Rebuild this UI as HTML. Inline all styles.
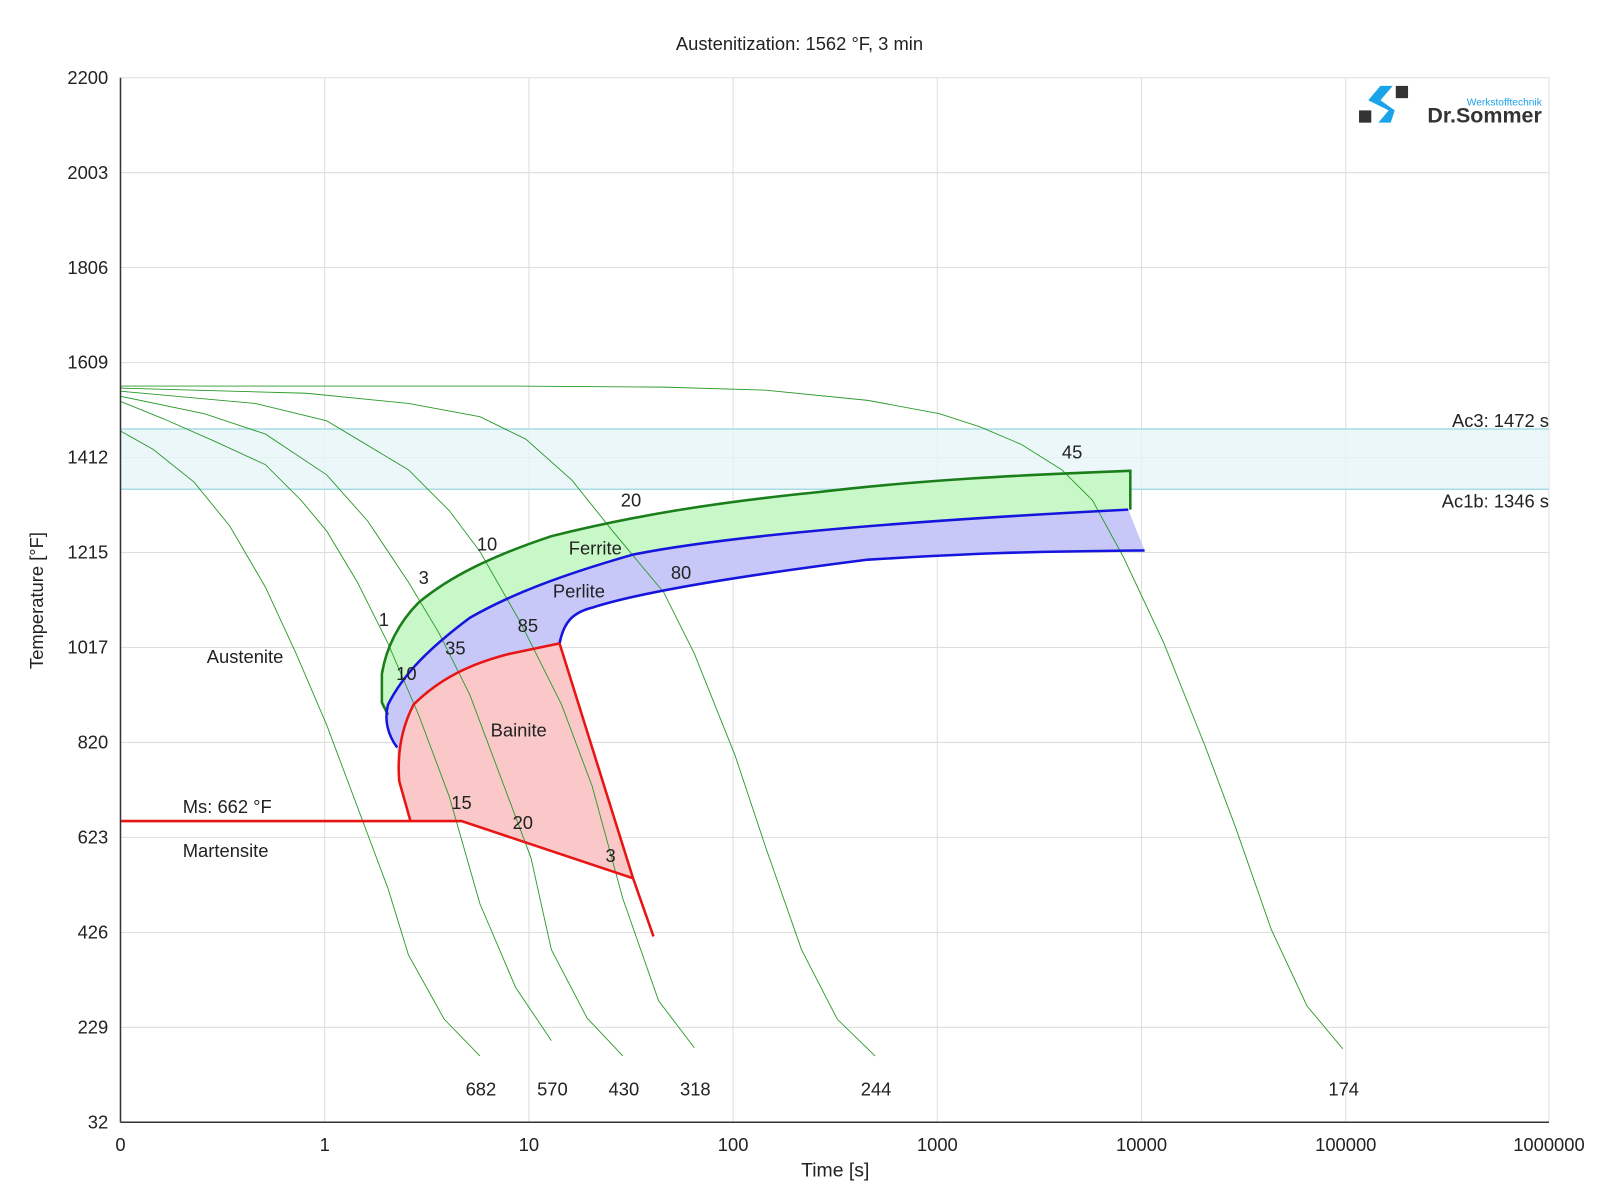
<!DOCTYPE html>
<html><head><meta charset="utf-8"><style>body{margin:0;background:#fff}svg{display:block}text{font-family:"Liberation Sans",sans-serif;fill:#222}</style></head><body>
<svg width="1600" height="1200" viewBox="0 0 1567 1175" xmlns="http://www.w3.org/2000/svg">
<g stroke="#ddd" stroke-width="1">
<line x1="318" y1="76" x2="318" y2="1099"/><line x1="518" y1="76" x2="518" y2="1099"/><line x1="718" y1="76" x2="718" y2="1099"/><line x1="918" y1="76" x2="918" y2="1099"/><line x1="1118" y1="76" x2="1118" y2="1099"/><line x1="1318" y1="76" x2="1318" y2="1099"/><line x1="1517" y1="76" x2="1517" y2="1099"/>
<line x1="118" y1="76" x2="1517" y2="76"/><line x1="118" y1="169" x2="1517" y2="169"/><line x1="118" y1="262" x2="1517" y2="262"/><line x1="118" y1="355" x2="1517" y2="355"/><line x1="118" y1="448" x2="1517" y2="448"/><line x1="118" y1="541" x2="1517" y2="541"/><line x1="118" y1="634" x2="1517" y2="634"/><line x1="118" y1="727" x2="1517" y2="727"/><line x1="118" y1="820" x2="1517" y2="820"/><line x1="118" y1="913" x2="1517" y2="913"/><line x1="118" y1="1006" x2="1517" y2="1006"/>
</g>
<rect x="118" y="420" width="1399" height="59" fill="#e6f5f8" opacity="0.8"/>
<line x1="118" y1="420" x2="1517" y2="420" stroke="#a8dbe6" stroke-width="1.5"/>
<line x1="118" y1="479" x2="1517" y2="479" stroke="#a8dbe6" stroke-width="1.5"/>
<!-- regions -->
<path d="M1107,461 C1000,465 900,470 800,482 C700,492 620,505 540,525 C480,545 440,565 410,590 C390,610 378,635 374,660 L374,688 L380,700 C395,660 420,635 460,605 C500,582 550,563 620,543 C700,527 850,512 1105,499 Z" fill="#c8f8c8"/>
<path d="M1105,499 C850,512 700,527 620,543 C550,563 500,582 460,605 C420,635 395,660 380,690 C376,705 380,720 389,732 L390,760 C389,740 392,715 405,690 C430,665 460,650 500,640 L548,630 C552,610 560,600 580,595 C620,582 700,567 850,548 C950,542 1000,540 1121,539 Z" fill="#c8c8f8"/>
<path d="M548,630 L500,640 C460,650 430,665 405,690 C392,715 389,740 391,765 L402,804 L452,804 L620,860 Z" fill="#fac8c8"/>
<!-- cooling curves -->
<g fill="none" stroke="#2a9a2a" stroke-width="0.9">
<polyline points="118,422 150,440 190,472 225,515 260,575 290,640 320,710 350,790 380,870 400,935 435,998 470,1034"/>
<polyline points="118,393 160,410 210,432 260,455 295,490 320,520 350,570 380,630 410,700 440,780 470,885 505,967 540,1019"/>
<polyline points="118,388 200,405 260,425 320,465 360,510 400,570 430,620 460,680 490,760 520,840 540,930 575,997 610,1034"/>
<polyline points="118,383 250,395 320,412 400,460 440,500 470,540 510,610 550,690 580,770 610,880 645,980 680,1026"/>
<polyline points="118,380 300,385 400,395 470,408 515,430 560,470 600,520 650,580 680,640 720,740 750,830 785,930 820,998 857,1034"/>
<polyline points="118,378 500,378 650,379 750,382 850,392 920,405 960,418 1000,435 1040,460 1070,490 1100,545 1140,630 1180,730 1210,810 1245,910 1280,985 1315,1027"/>
</g>
<!-- boundaries -->
<path d="M1107,499 L1107,461 C1000,465 900,470 800,482 C700,492 620,505 540,525 C480,545 440,565 410,590 C390,610 378,635 374,660 L374,688 L380,700" fill="none" stroke="#1a7f1a" stroke-width="2.5"/>
<path d="M1105,499 C850,512 700,527 620,543 C550,563 500,582 460,605 C420,635 395,660 380,690 C376,705 380,720 389,732" fill="none" stroke="#1515dd" stroke-width="2.5"/>
<path d="M1121,539 C1000,540 950,542 850,548 C700,567 620,582 580,595 C560,600 552,610 548,630" fill="none" stroke="#1515dd" stroke-width="2.5"/>
<path d="M548,630 L500,640 C460,650 430,665 405,690 C392,715 389,740 391,765 L402,804 M118,804 L452,804 L620,860 L640,917 M548,630 L620,860" fill="none" stroke="#e81515" stroke-width="2.5"/>
<!-- axes -->
<g stroke="#333" stroke-width="1.5"><line x1="118" y1="76" x2="118" y2="1099"/><line x1="118" y1="1099" x2="1517" y2="1099"/></g>
<g font-size="18" text-anchor="end">
<text x="106" y="82">2200</text><text x="106" y="175">2003</text><text x="106" y="268">1806</text><text x="106" y="361">1609</text><text x="106" y="454">1412</text><text x="106" y="547">1215</text><text x="106" y="640">1017</text><text x="106" y="733">820</text><text x="106" y="826">623</text><text x="106" y="919">426</text><text x="106" y="1012">229</text><text x="106" y="1105">32</text>
</g>
<g font-size="18" text-anchor="middle">
<text x="118" y="1127">0</text><text x="318" y="1127">1</text><text x="518" y="1127">10</text><text x="718" y="1127">100</text><text x="918" y="1127">1000</text><text x="1118" y="1127">10000</text><text x="1318" y="1127">100000</text><text x="1517" y="1127">1000000</text>
<text x="818" y="1152" font-size="19">Time [s]</text>
<text x="783" y="49">Austenitization: 1562 °F, 3 min</text>
<text x="471" y="1073">682</text><text x="541" y="1073">570</text><text x="611" y="1073">430</text><text x="681" y="1073">318</text><text x="858" y="1073">244</text><text x="1316" y="1073">174</text>
<text x="1050" y="449">45</text><text x="618" y="496">20</text><text x="477" y="539">10</text><text x="415" y="572">3</text><text x="376" y="613">1</text><text x="667" y="567">80</text><text x="517" y="619">85</text><text x="446" y="641">35</text><text x="398" y="666">10</text><text x="452" y="792">15</text><text x="512" y="812">20</text><text x="598" y="844">3</text>
<text x="583" y="543">Ferrite</text><text x="567" y="585">Perlite</text><text x="508" y="721">Bainite</text><text x="240" y="649">Austenite</text>
</g>
<text x="42" y="588" font-size="18" text-anchor="middle" transform="rotate(-90 42 588)">Temperature [°F]</text>
<g font-size="18"><text x="179" y="796">Ms: 662 °F</text><text x="179" y="839">Martensite</text></g>
<g font-size="18" text-anchor="end"><text x="1517" y="418">Ac3: 1472 s</text><text x="1517" y="497">Ac1b: 1346 s</text></g>
<!-- logo -->
<rect x="1331" y="108" width="12" height="12" fill="#333"/><rect x="1367" y="84" width="12" height="12" fill="#333"/>
<path d="M1352,84 L1364,84 L1352,98 L1366,108 L1362,120 L1350,120 L1360,108 L1340,98 Z" fill="#1aa3e8"/>
<text x="1510" y="103" font-size="10" fill="#1aa3e8" style="fill:#1aa3e8" text-anchor="end">Werkstofftechnik</text>
<text x="1510" y="120" font-size="21" font-weight="bold" style="fill:#333" text-anchor="end">Dr.Sommer</text>
</svg>
</body></html>
